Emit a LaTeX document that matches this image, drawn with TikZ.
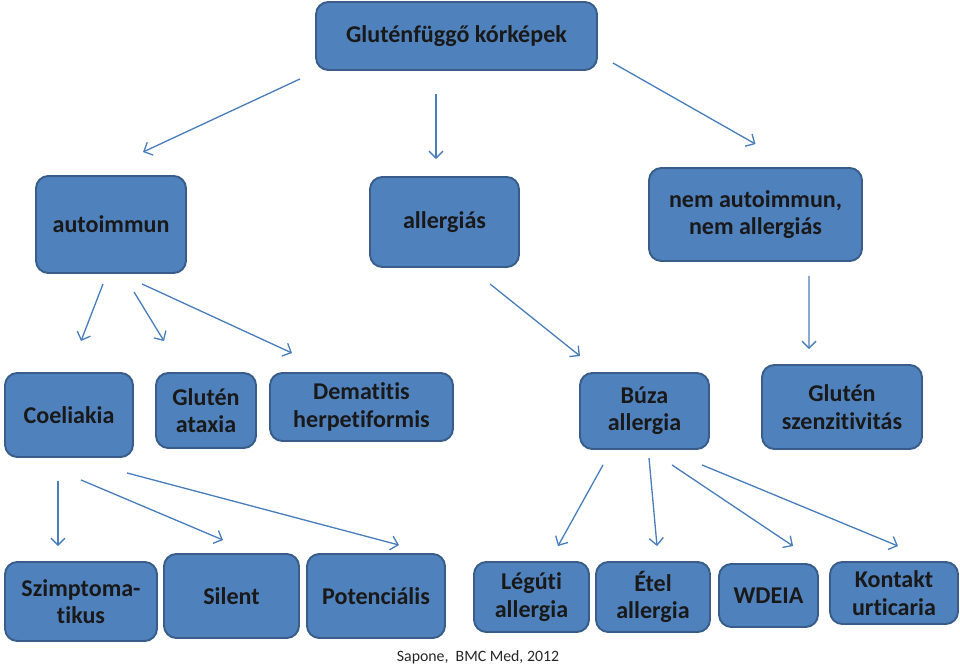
\documentclass[tikz,border=0pt]{standalone}
\usepackage{fontspec}
\setmainfont{Carlito}[Ligatures={NoCommon}]
\usepackage{xcolor}
\usetikzlibrary{arrows.meta}

\definecolor{boxblue}{HTML}{4F81BD}
\definecolor{boxline}{HTML}{385D8A}
\definecolor{arrblue}{HTML}{4A7EBB}

\begin{document}
\begin{tikzpicture}[x=0.02cm, y=-0.02cm,
  box/.style={rectangle, rounded corners=7pt, draw=boxline, line width=1.1pt, fill=boxblue,
              align=center, inner sep=2pt, text=black!90,
              font=\fontsize{13.7}{15.6}\selectfont\bfseries},
  arr/.style={-{Straight Barb[length=4pt, width=8pt]}, line width=0.75pt, arrblue},
  cite/.style={font=\fontsize{9}{11}\selectfont, text=black!85}
]
\useasboundingbox (0,0) rectangle (960,668);

% top level
\node[box, minimum width=5.62cm, minimum height=1.36cm] (gluten) at (456.5,36) {Gluténfüggő kórképek};

% second level
\node[box, minimum width=3.00cm, minimum height=1.94cm] (auto) at (111,224.5) {autoimmun};
\node[box, minimum width=2.98cm, minimum height=1.80cm] (aller) at (444.5,222) {allergiás};
\node[box, minimum width=4.26cm, minimum height=1.86cm] (nonae) at (755.5,214.5) {nem autoimmun,\\nem allergiás};

% third level
\node[box, minimum width=2.56cm, minimum height=1.68cm] (coel) at (69,415) {Coeliakia};
\node[box, minimum width=2.00cm, minimum height=1.50cm] (ataxia) at (206,410.5) {Glutén\\ataxia};
\node[box, minimum width=3.66cm, minimum height=1.36cm] (derm) at (361.5,407) {Dematitis\\herpetiformis};
\node[box, minimum width=2.58cm, minimum height=1.52cm] (wheat) at (644.5,411) {Búza\\allergia};
\node[box, minimum width=3.20cm, minimum height=1.68cm] (sens) at (842,407) {Glutén\\szenzitivitás};

% bottom level
\node[box, minimum width=3.04cm, minimum height=1.58cm] (sympt) at (81,601.5) {Szimptoma-\\tikus};
\node[box, minimum width=2.70cm, minimum height=1.68cm] (silent) at (231.5,596) {Silent};
\node[box, minimum width=2.76cm, minimum height=1.68cm] (potent) at (376,596) {Potenciális};
\node[box, minimum width=2.30cm, minimum height=1.40cm] (resp) at (531.5,597) {Légúti\\allergia};
\node[box, minimum width=2.28cm, minimum height=1.40cm] (food) at (653,597) {Étel\\allergia};
\node[box, minimum width=1.98cm, minimum height=1.26cm] (wdeia) at (768.5,595.5) {WDEIA};
\node[box, minimum width=2.56cm, minimum height=1.24cm] (contact) at (894,593) {Kontakt\\urticaria};

\node[cite] (source) at (478,657) {Sapone,\ \ BMC Med, 2012};

% arrows
\draw[arr] ([shift={(-156.5,8)}]gluten.south) -- ([shift={(32,-23)}]auto.north);
\draw[arr] ([shift={(-20.5,23)}]gluten.south) -- ([shift={(-8.5,-17)}]aller.north);
\draw[arr] ([shift={(15,27)}]gluten.east) -- ([shift={(0,-23)}]nonae.north);

\draw[arr] ([shift={(-8,10)}]auto.south) -- ([shift={(12,-31)}]coel.north);
\draw[arr] ([shift={(23,18)}]auto.south) -- ([shift={(-42,-31)}]ataxia.north);
\draw[arr] ([shift={(31,10)}]auto.south) -- ([shift={(-69.5,-19)}]derm.north);
\draw[arr] ([shift={(45.5,16)}]aller.south) -- ([shift={(-64.5,-16)}]wheat.north);
\draw[arr] ([shift={(53.5,14)}]nonae.south) -- ([shift={(-33,-15)}]sens.north);

\draw[arr] ([shift={(-11,23)}]coel.south) -- ([shift={(-23,-15)}]sympt.north);
\draw[arr] ([shift={(12,22)}]coel.south) -- ([shift={(-8.5,-13)}]silent.north);
\draw[arr] ([shift={(58,15)}]coel.south) -- ([shift={(23,-8)}]potent.north);

\draw[arr] ([shift={(-41.5,15)}]wheat.south) -- ([shift={(26.5,-15)}]resp.north);
\draw[arr] ([shift={(4.5,8)}]wheat.south) -- ([shift={(4,-15)}]food.north);
\draw[arr] ([shift={(27.5,15)}]wheat.south) -- ([shift={(24.5,-17)}]wdeia.north);
\draw[arr] ([shift={(57.5,15)}]wheat.south) -- ([shift={(4,-15)}]contact.north);
\end{tikzpicture}
\end{document}
